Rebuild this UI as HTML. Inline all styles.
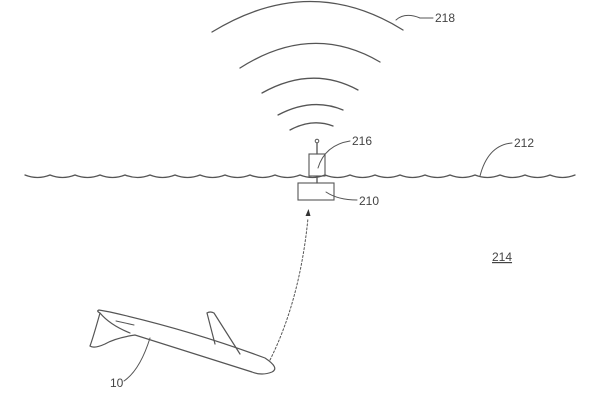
<!DOCTYPE html>
<html><head><meta charset="utf-8"><style>
html,body{margin:0;padding:0;background:#fff;}
svg{display:block}
text{font-family:"Liberation Sans Narrow","Liberation Sans",sans-serif;font-size:12px;fill:#444}
</style></head><body>
<svg width="600" height="406" viewBox="0 0 600 406" xmlns="http://www.w3.org/2000/svg">
<g fill="none" stroke="#555" stroke-width="1.3" stroke-linecap="round">
<path d="M212 32 Q310 -28 403 30"/>
<path d="M240 68 Q312 22 380 62"/>
<path d="M262 93 Q312 65 358 90"/>
<path d="M278 115 Q312 97 343 110"/>
<path d="M290 130 Q312 118 333 126"/>
<path d="M25 175 q12.5 5 25 0 q12.5 5 25 0 q12.5 5 25 0 q12.5 5 25 0 q12.5 5 25 0 q12.5 5 25 0 q12.5 5 25 0 q12.5 5 25 0 q12.5 5 25 0 q12.5 5 25 0 q12.5 5 25 0 q12.5 5 25 0 q12.5 5 25 0 q12.5 5 25 0 q12.5 5 25 0 q12.5 5 25 0 q12.5 5 25 0 q12.5 5 25 0 q12.5 5 25 0 q12.5 5 25 0 q12.5 5 25 0 q12.5 5 25 0"/>
<rect x="309" y="154" width="16" height="22" stroke-width="1.1"/>
<line x1="317" y1="154" x2="317" y2="143"/>
<circle cx="317" cy="141" r="1.8" stroke-width="1"/>
<line x1="317" y1="176" x2="317" y2="183"/>
<rect x="298" y="183" width="36" height="17" stroke-width="1.1"/>
<path d="M318 168 Q325 145 350 141" stroke-width="1"/>
<path d="M326 192 Q338 200 357 200" stroke-width="1"/>
<path d="M396 20 Q405 12 420 18 L433 18" stroke-width="1"/>
<path d="M480 176 Q488 145 512 143" stroke-width="1"/>
<path d="M270 360 Q300 300 308 218" stroke-dasharray="2 2" stroke-width="1"/>
<!-- plane -->
<path d="M100 313 Q96 311 99 310 L110 312 Q190 330 265 358 Q280 368 272 372 Q262 376 252 372 L135 335 Q115 338 105 344 Q94 349 90 346 Q93 338 100 313 Z M100 313 Q110 325 130 333" stroke-width="1.2"/>
<path d="M207 313 Q210 311 214 313 L240 354" stroke-width="1.2"/>
<path d="M207 313 L215 344" stroke-width="1.2"/>
<path d="M116 321 L134 325" stroke-width="1"/>
<path d="M150 338 Q140 370 124 381" stroke-width="1"/>
</g>
<path d="M305.5 216 L308.5 209 L310.5 216 Z" fill="#333"/>
<text x="435" y="22">218</text>
<text x="352" y="145">216</text>
<text x="359" y="205">210</text>
<text x="514" y="147">212</text>
<text x="492" y="261" text-decoration="underline">214</text>
<text x="110" y="387">10</text>
</svg>
</body></html>
